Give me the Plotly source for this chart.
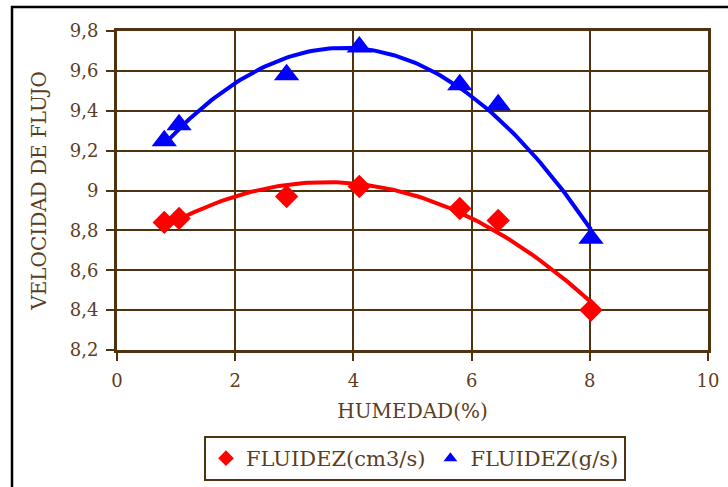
import numpy as np
import plotly.graph_objects as go

# Humidity (%) and flow rate readings
humedad = [0.80, 1.05, 2.87, 4.10, 5.80, 6.45, 8.02]
fluidez_cm3s = [8.84, 8.86, 8.97, 9.02, 8.91, 8.85, 8.40]
fluidez_gs = [9.25, 9.33, 9.58, 9.72, 9.53, 9.43, 8.76]

x_ticks = [0, 2, 4, 6, 8, 10]
y_ticks = [8.2, 8.4, 8.6, 8.8, 9.0, 9.2, 9.4, 9.6, 9.8]

TEXT = "#5c3d1e"
GRID = "#4f3210"
FONT = "DejaVu Serif"

W, H = 728, 487
ML, MR, MT, MB = 117, 20, 31, 137


def trend(xs, ys, deg=2, n=120):
    coef = np.polyfit(xs, ys, deg)
    xx = np.linspace(min(xs), max(xs), n)
    return xx, np.polyval(coef, xx)


fig = go.Figure()

# polynomial trend lines
for ys, col in [(fluidez_cm3s, "#ff0000"), (fluidez_gs, "#0000ff")]:
    tx, ty = trend(humedad, ys)
    fig.add_trace(go.Scatter(x=tx, y=ty, mode="lines", showlegend=False,
                             line=dict(color=col, width=4), hoverinfo="skip"))

fig.add_trace(go.Scatter(x=humedad, y=fluidez_cm3s, mode="markers",
                         name="FLUIDEZ(cm3/s)",
                         marker=dict(symbol="diamond", size=18, color="#ff0000")))
fig.add_trace(go.Scatter(x=humedad, y=fluidez_gs, mode="markers",
                         name="FLUIDEZ(g/s)",
                         marker=dict(symbol="triangle-up", size=22, color="#0000ff")))

axis_common = dict(
    showgrid=True, gridcolor=GRID, gridwidth=2,
    showline=True, linecolor=GRID, linewidth=3, mirror=True,
    ticks="outside", ticklen=8, tickwidth=2, tickcolor=GRID,
    zeroline=False,
    tickfont=dict(family=FONT, size=18, color=TEXT),
)

fig.update_xaxes(range=[0, 10], tickvals=x_ticks, ticklabelstandoff=4,
                 title=dict(text="HUMEDAD(%)", standoff=15,
                            font=dict(family=FONT, size=20, color=TEXT)),
                 **axis_common)
fig.update_yaxes(range=[8.2, 9.8], tickvals=y_ticks, ticklabelstandoff=4,
                 title=dict(text="VELOCIDAD DE FLUJO", standoff=18,
                            font=dict(family=FONT, size=20, color=TEXT)),
                 **axis_common)

# black frame around the chart (top and left edges visible)
pw = W - ML - MR
ph = H - MT - MB
def px_x(p):
    return (p - ML) / pw
def px_y(p):
    return 1 - (p - MT) / ph

fig.add_shape(type="rect", xref="paper", yref="paper",
              x0=px_x(12), x1=px_x(W + 20), y0=px_y(H + 20), y1=px_y(7),
              line=dict(color="black", width=2.5), layer="below")

fig.update_layout(
    width=W, height=H,
    margin=dict(l=ML, r=MR, t=MT, b=MB, autoexpand=False),
    paper_bgcolor="white", plot_bgcolor="white",
    separators=",.",
    font=dict(family=FONT, color=TEXT),
    legend=dict(orientation="h", x=px_x(415), xanchor="center",
                y=px_y(436), yanchor="top",
                bordercolor=GRID, borderwidth=2, bgcolor="white",
                font=dict(family=FONT, size=21, color=TEXT),
                itemsizing="constant", itemwidth=30, tracegroupgap=0),
)

fig.write_html("out.html")
